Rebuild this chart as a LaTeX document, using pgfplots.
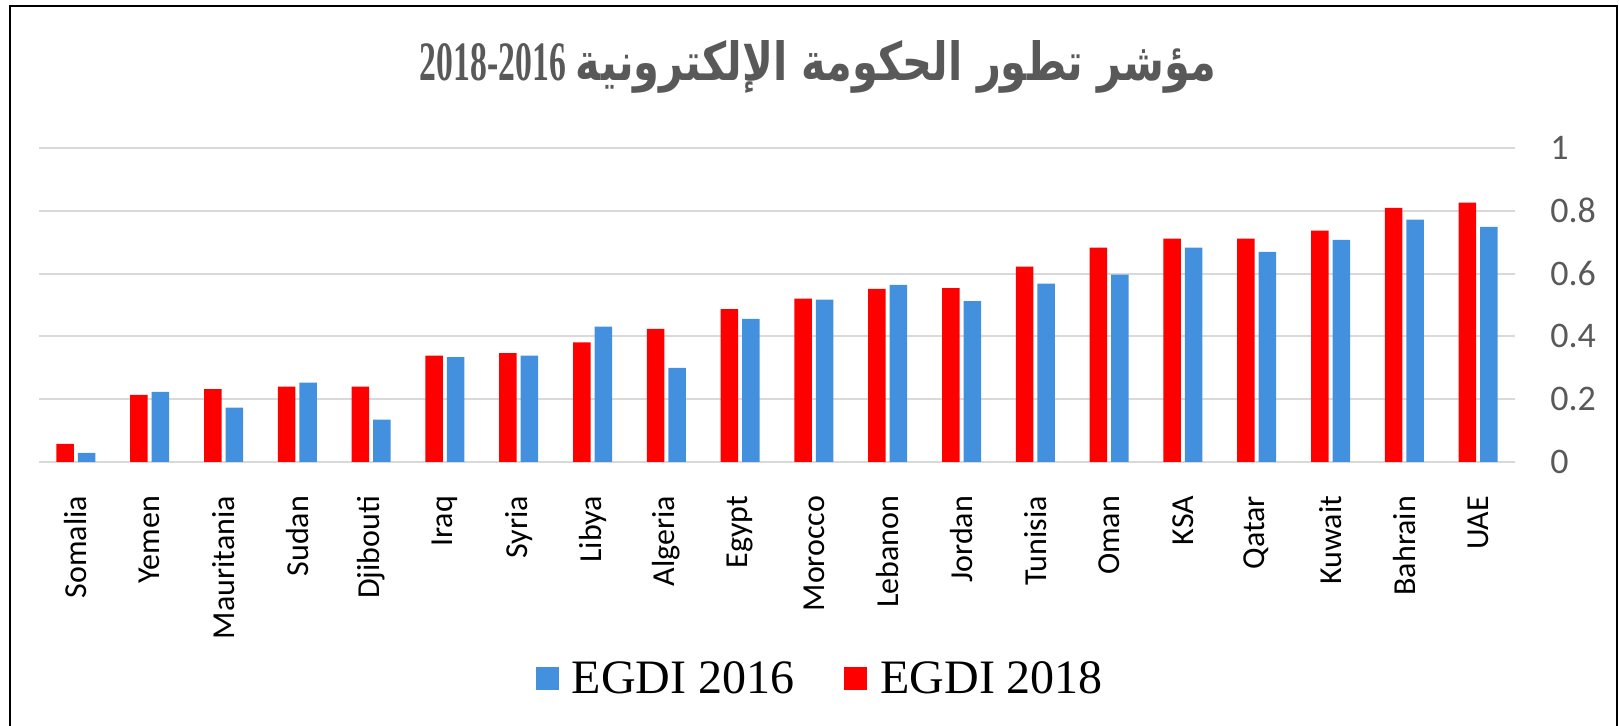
\documentclass[border=0pt]{standalone}
\usepackage{pgfplots}
\pgfplotsset{compat=1.18}
\usepackage{fontspec}
\usepackage{graphicx}
\setmainfont{Liberation Serif}
\newfontfamily\calibri{Carlito}
\newfontfamily\arabicfont[Script=Arabic]{DejaVu Sans}
\TeXXeTstate=1
\definecolor{egblue}{RGB}{67,144,222}
\definecolor{egred}{RGB}{255,0,0}
\definecolor{txtgrey}{RGB}{89,89,89}
\definecolor{gridgrey}{RGB}{217,217,217}
\begin{document}
\begin{tikzpicture}
\path[use as bounding box] (0,0) rectangle (809.5bp,363bp);
\draw[line width=1bp] (5bp,-5bp) -- (5bp,360bp) -- (808.5bp,360bp) -- (808.5bp,-5bp);
\node[anchor=base, text=txtgrey, inner sep=0pt] at (409bp,322.75bp) {\resizebox{73bp}{18.5bp}{\bfseries 2018-2016}\hspace{5bp}\resizebox{320bp}{20bp}{\arabicfont\bfseries\beginR مؤشر تطور الحكومة الإلكترونية\endR}};
\begin{axis}[at={(19.5bp,132bp)}, anchor=south west, scale only axis,
  width=738bp, height=157bp,
  xmin=-0.5, xmax=19.5, ymin=0, ymax=1,
  ybar, bar width=8.75bp,
  axis line style={draw=none}, tick style={draw=none},
  xtick={0,1,2,3,4,5,6,7,8,9,10,11,12,13,14,15,16,17,18,19},
  xticklabels={Somalia,Yemen,Mauritania,Sudan,Djibouti,Iraq,Syria,Libya,Algeria,Egypt,Morocco,Lebanon,Jordan,Tunisia,Oman,KSA,Qatar,Kuwait,Bahrain,UAE},
  xticklabel style={font=\calibri\fontsize{16bp}{18bp}\selectfont, rotate=90, anchor=east, inner sep=0pt},
  xticklabel shift=12.5bp,
  ytick={0,0.2,0.4,0.6,0.8,1},
  yticklabels={0,0.2,0.4,0.6,0.8,1},
  yticklabel pos=right,
  /pgf/number format/assume math mode=true,
  yticklabel style={font=\calibri\fontsize{18bp}{20bp}\selectfont, text=txtgrey, anchor=west, inner sep=0pt},
  yticklabel shift=17.5bp,
  ymajorgrids, major grid style={gridgrey, line width=1bp},
  legend style={at={(0.5287,-0.688)}, anchor=center, draw=none, fill=none,
    legend columns=2, font=\fontsize{24bp}{28bp}\selectfont, inner sep=0pt,
    nodes={inner sep=0pt, text depth=0pt},
    /tikz/every odd column/.append style={column sep=6.5bp},
    /tikz/every even column/.append style={column sep=25bp}},
  legend image code/.code={\fill[#1] (0bp,-5.75bp) rectangle (11.5bp,5.75bp);},
]
\addplot[fill=egblue, draw=none, bar shift=5.375bp] coordinates {
(0,0.029) (1,0.223) (2,0.173) (3,0.253) (4,0.135) (5,0.334) (6,0.339) (7,0.431) (8,0.300) (9,0.456)
(10,0.517) (11,0.564) (12,0.512) (13,0.568) (14,0.597) (15,0.683) (16,0.669) (17,0.707) (18,0.772) (19,0.749)};
\addlegendentry{EGDI 2016}
\addplot[fill=egred, draw=none, bar shift=-5.375bp] coordinates {
(0,0.058) (1,0.214) (2,0.232) (3,0.240) (4,0.240) (5,0.339) (6,0.347) (7,0.381) (8,0.424) (9,0.487)
(10,0.520) (11,0.551) (12,0.554) (13,0.622) (14,0.683) (15,0.711) (16,0.711) (17,0.737) (18,0.809) (19,0.826)};
\addlegendentry{EGDI 2018}
\end{axis}
\end{tikzpicture}
\end{document}
